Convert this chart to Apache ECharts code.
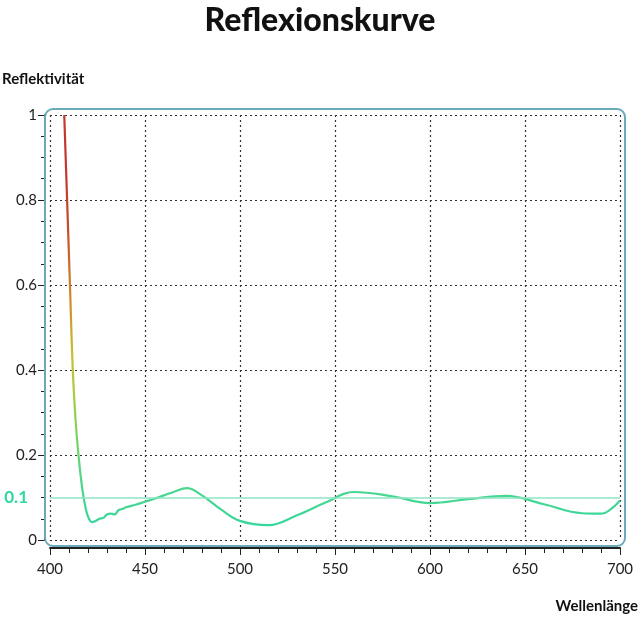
<!DOCTYPE html>
<html>
<head>
<meta charset="utf-8">
<script src="https://cdn.jsdelivr.net/npm/echarts@6/dist/echarts.min.js"></script>
<style>html,body{margin:0;padding:0;background:#fff}#c{width:640px;height:618px}</style>
</head>
<body>
<div id="c"></div>
<script>
// Wellenlänge (nm) und Reflektivität
var wavelength = [407.5, 409, 410.5, 412, 413.5, 415, 417, 419, 420.5, 422, 424, 426, 428, 430, 432, 434, 436, 438, 440, 445, 450, 455, 460, 465, 472, 480, 490, 500, 515, 530, 545, 560, 580, 600, 620, 640, 660, 680, 690, 695, 700];
var reflect = [1.0, 0.8, 0.6, 0.4, 0.28, 0.2, 0.12, 0.07, 0.05, 0.042, 0.045, 0.05, 0.052, 0.06, 0.062, 0.06, 0.07, 0.073, 0.077, 0.083, 0.09, 0.097, 0.105, 0.113, 0.122, 0.105, 0.072, 0.045, 0.035, 0.058, 0.088, 0.113, 0.103, 0.087, 0.096, 0.104, 0.084, 0.063, 0.062, 0.072, 0.093];
var yTicks = [0, 0.2, 0.4, 0.6, 0.8, 1];

var points = wavelength.map(function (w, i) { return [w, reflect[i]]; });
var font = 'Lato, "Open Sans", sans-serif';

var chart = echarts.init(document.getElementById('c'));
chart.setOption({
  animation: false,
  title: {
    text: 'Reflexionskurve', left: 'center', top: 0,
    textStyle: { fontFamily: font, fontSize: 32, fontWeight: 900, color: '#111' }
  },
  grid: { left: 50, right: 20, top: 115, bottom: 78 },
  visualMap: {
    show: false, type: 'continuous', dimension: 1, min: 0, max: 1,
    inRange: { color: ['#2ed8a0', '#4fd68a', '#8fd14f', '#c8c030', '#d08a2a', '#c8502a', '#c0392b', '#c0392b'] }
  },
  graphic: [
    { type: 'rect', shape: { x: 45, y: 109, width: 580, height: 437, r: 8 },
      style: { fill: 'none', stroke: '#6aaab9', lineWidth: 2 }, z: 10 },
    { type: 'text', left: 2, top: 72,
      style: { text: 'Reflektivität', font: 'bold 15px ' + font, fill: '#111' } },
    { type: 'text', right: 2, top: 599,
      style: { text: 'Wellenlänge', font: 'bold 15px ' + font, fill: '#111' } }
  ],
  xAxis: {
    type: 'value', min: 400, max: 700, interval: 50, offset: 8,
    axisLine: { show: true, onZero: false, lineStyle: { color: '#222', width: 2 } },
    axisTick: { show: true, length: 7, lineStyle: { color: '#222' } },
    minorTick: { show: true, splitNumber: 5, length: 5, lineStyle: { color: '#222' } },
    axisLabel: { fontFamily: font, fontSize: 15, color: '#222', margin: 14 },
    splitLine: { show: true, lineStyle: { color: '#333', type: [2, 3], width: 1.2 } }
  },
  yAxis: {
    type: 'value', min: 0, max: 1, interval: 0.2, offset: 5,
    axisLine: { show: true, onZero: false, lineStyle: { color: '#222', width: 2 } },
    axisTick: { show: true, length: 7, lineStyle: { color: '#222' } },
    minorTick: { show: true, splitNumber: 4, length: 4, lineStyle: { color: '#222' } },
    axisLabel: {
      fontFamily: font, fontSize: 15, color: '#222', margin: 8,
      formatter: function (v) { return yTicks.indexOf(v) >= 0 ? String(v) : ''; }
    },
    splitLine: { show: true, lineStyle: { color: '#333', type: [2, 3], width: 1.2 } }
  },
  series: [{
    type: 'line', data: points, smooth: 0.4, symbol: 'none',
    lineStyle: { width: 2.2 },
    markLine: {
      silent: true, symbol: 'none',
      lineStyle: { color: '#8fe3c4', type: 'solid', width: 1.5 },
      label: { position: 'start', distance: 22, formatter: '0.1', color: '#2ed8a0',
        fontFamily: font, fontSize: 17, fontWeight: 'bold' },
      data: [{ yAxis: 0.1 }]
    }
  }]
});
</script>
</body>
</html>
